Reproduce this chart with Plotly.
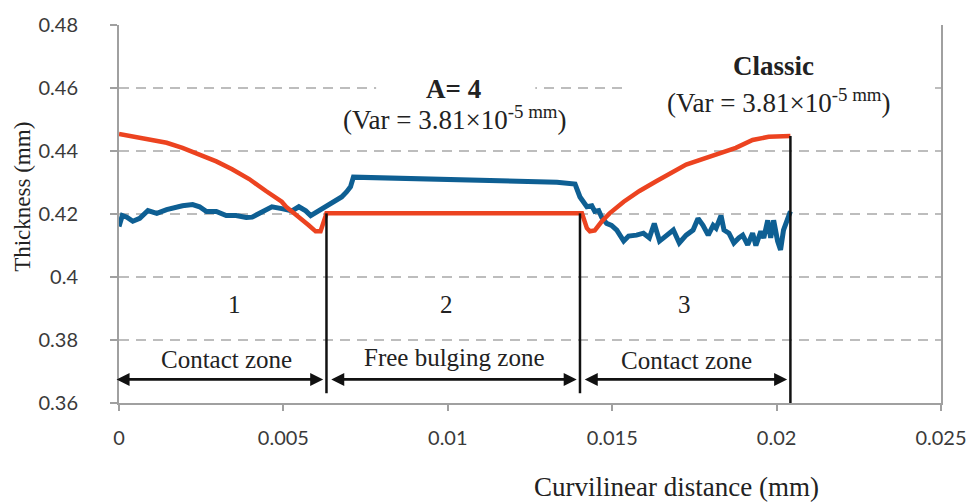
import plotly.graph_objects as go

# ---------------- data ----------------
blue_x = [0.0, 0.0001, 0.00024, 0.00042, 0.00063, 0.00088, 0.00115, 0.00145, 0.00193, 0.00224,
          0.00245, 0.00266, 0.00296, 0.00326, 0.00356, 0.00387, 0.00405, 0.00435, 0.00465, 0.00495,
          0.00526, 0.00547, 0.00568, 0.00583, 0.00607, 0.00637, 0.00668, 0.00677, 0.00692, 0.00704,
          0.00713, 0.01332, 0.01387, 0.01402, 0.01423, 0.01438, 0.01447, 0.01459, 0.01468, 0.01483,
          0.01498, 0.01514, 0.01535, 0.0155, 0.01574, 0.01595, 0.01613, 0.01628, 0.01644, 0.01665,
          0.01686, 0.01704, 0.01725, 0.01746, 0.01761, 0.01776, 0.01792, 0.01807, 0.01816, 0.01831,
          0.0184, 0.01855, 0.0187, 0.01885, 0.01897, 0.01912, 0.01927, 0.01937, 0.01952, 0.01961,
          0.01973, 0.01982, 0.01991, 0.02003, 0.02012, 0.02021, 0.02033, 0.02042]
blue_y = [0.416, 0.4195, 0.419, 0.4177, 0.4186, 0.4211, 0.4202, 0.4214, 0.4226, 0.423,
          0.4223, 0.4208, 0.4208, 0.4195, 0.4195, 0.4189, 0.419, 0.4208, 0.4223, 0.4217,
          0.421, 0.4223, 0.421, 0.4195, 0.421, 0.4233, 0.4248, 0.4254, 0.427, 0.4286,
          0.4317, 0.4301, 0.4295, 0.4254, 0.4223, 0.4226, 0.4208, 0.4211, 0.419, 0.417,
          0.4164, 0.4149, 0.4114, 0.413, 0.4133, 0.4139, 0.4124, 0.417, 0.4114, 0.4133,
          0.4149, 0.4108, 0.4133, 0.4149, 0.4186, 0.4164, 0.4133, 0.4164, 0.4155, 0.4195,
          0.4149, 0.4139, 0.4108, 0.4124, 0.4133, 0.4102, 0.4139, 0.41, 0.4145, 0.4124,
          0.418, 0.4124, 0.418, 0.4114, 0.4086, 0.4149, 0.418, 0.4208]

red_x = [0.0, 0.00042, 0.00094, 0.00145, 0.00193, 0.00245, 0.00296, 0.00344, 0.00396, 0.00447,
         0.00495, 0.00508, 0.00547, 0.00577, 0.00598, 0.00613, 0.00628, 0.00631, 0.01408, 0.01423,
         0.01432, 0.01447, 0.01468, 0.01492, 0.01535, 0.01583, 0.01634, 0.01686, 0.01725, 0.01876,
         0.01927, 0.01976, 0.02042]
red_y = [0.4454, 0.4445, 0.4435, 0.4426, 0.441, 0.4389, 0.4367, 0.4342, 0.4311, 0.4273,
         0.4239, 0.4223, 0.4192, 0.4164, 0.4145, 0.4145, 0.4192, 0.4202, 0.4202, 0.4155,
         0.4145, 0.4148, 0.4176, 0.4202, 0.4239, 0.4273, 0.4304, 0.4336, 0.4357, 0.441,
         0.4435, 0.4445, 0.4448]

zone_edges = [0.0, 0.00631, 0.01402, 0.02042]
zone_numbers = ["1", "2", "3"]
zone_names = ["Contact zone", "Free bulging zone", "Contact zone"]

x_ticks = [0, 0.005, 0.01, 0.015, 0.02, 0.025]
x_tick_labels = ["0", "0.005", "0.01", "0.015", "0.02", "0.025"]
y_ticks = [0.36, 0.38, 0.40, 0.42, 0.44, 0.46, 0.48]
y_tick_labels = ["0.36", "0.38", "0.4", "0.42", "0.44", "0.46", "0.48"]

# ---------------- styles ----------------
BLUE = "#0e5f93"
RED = "#ec4320"
GRID = "#a8a8a8"
AXIS = "#a0a0a0"
TXT = "#222222"
SERIF = "Liberation Serif"
TICKFONT = dict(family="Lato", size=20, color="#3a3a3a")

fig = go.Figure()
fig.add_trace(go.Scatter(x=blue_x, y=blue_y, mode="lines",
                         line=dict(color=BLUE, width=5), showlegend=False))
fig.add_trace(go.Scatter(x=red_x, y=red_y, mode="lines",
                         line=dict(color=RED, width=4.5), showlegend=False))

shapes = []
for v in y_ticks[1:-1]:
    shapes.append(dict(type="line", xref="x", yref="y", x0=0, x1=0.025, y0=v, y1=v,
                       line=dict(color=GRID, width=1.6, dash="10px,7px"), layer="below"))
shapes.append(dict(type="rect", xref="x", yref="y", x0=0.00782, x1=0.01266, y0=0.452, y1=0.47,
                   fillcolor="white", line=dict(width=0), layer="below"))
shapes.append(dict(type="rect", xref="x", yref="y", x0=0.0155, x1=0.02465, y0=0.452, y1=0.47,
                   fillcolor="white", line=dict(width=0), layer="below"))
shapes.append(dict(type="line", xref="x", yref="y", x0=zone_edges[1], x1=zone_edges[1],
                   y0=0.4202, y1=0.3631, line=dict(color="#111", width=2.5), layer="above"))
shapes.append(dict(type="line", xref="x", yref="y", x0=zone_edges[2], x1=zone_edges[2],
                   y0=0.4202, y1=0.3631, line=dict(color="#111", width=2.5), layer="above"))
shapes.append(dict(type="line", xref="x", yref="y", x0=zone_edges[3], x1=zone_edges[3],
                   y0=0.4448, y1=0.36, line=dict(color="#111", width=2.5), layer="above"))

annotations = []
arrow_y = 0.3675
gap = 0.0001
num_x = [0.0035, 0.00997, 0.01719]
name_x = [0.00326, 0.01021, 0.01725]
name_y = [0.3737, 0.3743, 0.3734]
for i in range(3):
    x0 = zone_edges[i] - (0.00012 if i == 0 else -gap)
    x1 = zone_edges[i + 1] - gap
    annotations.append(dict(x=x1, y=arrow_y, ax=x0, ay=arrow_y, xref="x", yref="y",
                            axref="x", ayref="y", text="", showarrow=True,
                            arrowhead=2, startarrowhead=2, arrowside="end+start",
                            arrowsize=1, startarrowsize=1, arrowwidth=2.6,
                            arrowcolor="#111", standoff=0, startstandoff=0))
    annotations.append(dict(x=num_x[i], y=0.3912, xref="x", yref="y",
                            text=zone_numbers[i], showarrow=False,
                            font=dict(family=SERIF, size=25, color=TXT)))
    annotations.append(dict(x=name_x[i], y=name_y[i], xref="x", yref="y",
                            text=zone_names[i], showarrow=False,
                            font=dict(family=SERIF, size=25, color=TXT)))

annotations += [
    dict(x=0.01018, y=0.4597, xref="x", yref="y", text="<b>A= 4</b>", showarrow=False,
         font=dict(family=SERIF, size=27, color=TXT)),
    dict(x=0.01021, y=0.4505, xref="x", yref="y",
         text="(Var = 3.81×10<sup>-5 mm</sup>)", showarrow=False,
         font=dict(family=SERIF, size=27, color=TXT)),
    dict(x=0.01991, y=0.4669, xref="x", yref="y", text="<b>Classic</b>", showarrow=False,
         font=dict(family=SERIF, size=27, color=TXT)),
    dict(x=0.02006, y=0.4558, xref="x", yref="y",
         text="(Var = 3.81×10<sup>-5 mm</sup>)", showarrow=False,
         font=dict(family=SERIF, size=27, color=TXT)),
    dict(x=-0.117, y=0.545, xref="paper", yref="paper", text="Thickness (mm)",
         xanchor="center", yanchor="middle",
         textangle=-90, showarrow=False, font=dict(family=SERIF, size=23, color=TXT)),
    dict(x=0.678, y=-0.221, xref="paper", yref="paper", text="Curvilinear distance (mm)",
         xanchor="center", yanchor="middle",
         showarrow=False, font=dict(family=SERIF, size=27, color=TXT)),
]

fig.update_layout(
    width=979, height=502,
    margin=dict(l=119, r=33, t=18, b=99),
    plot_bgcolor="white", paper_bgcolor="white",
    shapes=shapes, annotations=annotations,
    xaxis=dict(range=[0, 0.025], tickvals=x_ticks, ticktext=x_tick_labels,
               showgrid=False, zeroline=False, showline=True, linecolor=AXIS, linewidth=2,
               ticks="outside", ticklen=6, tickwidth=2, tickcolor=AXIS,
               tickfont=TICKFONT, ticklabelstandoff=10),
    yaxis=dict(range=[0.36, 0.48], tickvals=y_ticks, ticktext=y_tick_labels,
               showgrid=False, zeroline=False, showline=True, linecolor=AXIS, linewidth=2,
               mirror=True,
               ticks="outside", ticklen=7, tickwidth=2, tickcolor=AXIS,
               tickfont=TICKFONT, ticklabelstandoff=28),
)

fig.write_html("out.html")
